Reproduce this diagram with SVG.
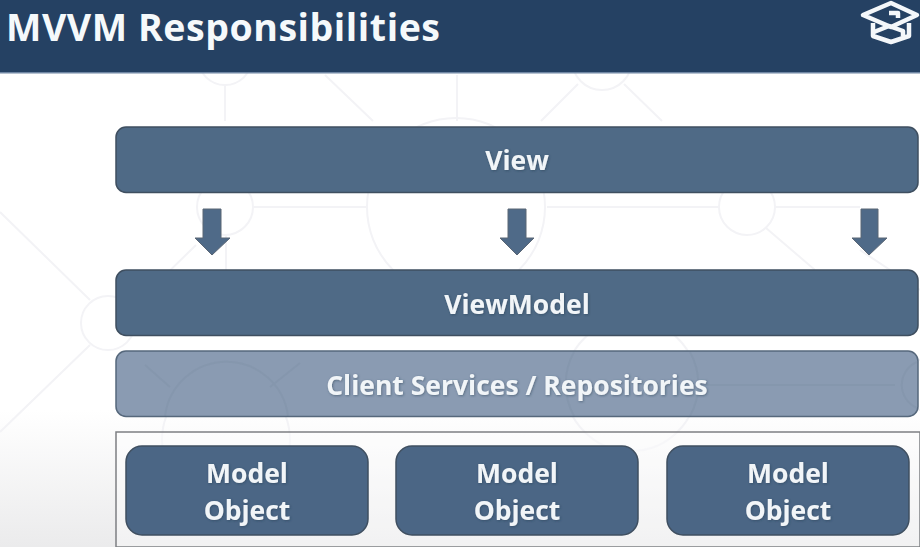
<svg xmlns="http://www.w3.org/2000/svg" width="920" height="547" viewBox="0 0 920 547">
<defs>
<linearGradient id="bg" x1="0" y1="0" x2="0" y2="1"><stop offset="0" stop-color="#fff"/><stop offset="0.75" stop-color="#fff"/><stop offset="1" stop-color="#ebebec"/></linearGradient>
<filter id="sh" x="-10%" y="-30%" width="120%" height="160%"><feDropShadow dx="0.800" dy="0.800" stdDeviation="0.800" flood-color="#1f3448" flood-opacity="0.500"/></filter>
</defs>
<style>
.dark{fill:#4f6a86;stroke:#3f4f60;stroke-width:1.5}
.mdl{fill:#4b6685;stroke:#3f4f60;stroke-width:1.5}
.lite{fill:#8a9bb2;stroke:#56687c;stroke-width:1.5}
.arrow{fill:#4f6a88;stroke:#5a6675;stroke-width:1}
.t{font-family:"Open Sans","Liberation Sans",sans-serif;font-weight:700;fill:#f1f5f8;text-anchor:middle;filter:url(#sh)}
.deco{fill:none;stroke:#f3f3f6;stroke-width:2}
.deco2{fill:none;stroke:#3f4f60;stroke-opacity:.05;stroke-width:2}
</style>
<rect width="920" height="547" fill="url(#bg)"/>
<g id="background" class="deco">
<circle cx="225" cy="58" r="27"/><circle cx="602" cy="60" r="30"/>
<path d="M225 85V121M325 75L373 121M457 75V121M578 84L541 121M624 84L662 121"/>
<circle cx="225" cy="207" r="28"/><path d="M253 207H368M547 207H718M775 207H860"/>
<circle cx="747" cy="207" r="28"/>
<circle cx="456" cy="207" r="89"/>
<path d="M0 212L90 300M90 345L0 432M196 245L150 290M226 235V270M766 228L815 270M860 250L920 290"/>
<circle cx="108" cy="323" r="27"/>
<circle cx="226" cy="440" r="64"/>
<circle cx="631" cy="385" r="66"/>
<circle cx="920" cy="385" r="25"/>
</g>
<g id="header">
<rect width="920" height="72.500" fill="#254163"/>
<rect y="72" width="920" height="1.500" fill="#6f86a3"/>
<text x="6" y="40.500" style="font-family:'Open Sans','Liberation Sans',sans-serif;font-weight:700;font-size:37.500px;letter-spacing:0.550px;fill:#f5f9fb">MVVM Responsibilities</text>
</g>
<g id="cap-icon" fill="none" stroke="#f4f7fa" stroke-width="4.500" stroke-linejoin="round">
<path d="M891 3L863 15 891 27 917 15Z"/>
<path d="M873 23V36L891 42 909 36V23"/>
<path d="M874 32L889 26 903 31V36M889 13H898V18"/>
</g>
<g id="view"><rect class="dark" x="116" y="127" width="802" height="65.500" rx="10"/><text class="t" x="517" y="170" font-size="26.500">View</text></g>
<g id="connectors">
<path class="arrow" d="M203 209H221V238H230L212 255 195 238H203Z"/>
<path class="arrow" d="M508 209H526V238H534L517 255 500 238H508Z"/>
<path class="arrow" d="M861 209H878V238H887L869 255 852 238H861Z"/>
</g>
<g id="viewmodel"><rect class="dark" x="116" y="270" width="802" height="65.500" rx="10"/><text class="t" x="517" y="314" font-size="26.500">ViewModel</text></g>
<g id="services"><rect class="lite" x="116" y="351" width="802" height="65.500" rx="10"/>
<path class="deco2" d="M165 416A62 62 0 0 1 288 416M145 365L170 387M270 387L300 363M574 352A66 66 0 0 0 574 416M690 352A66 66 0 0 1 690 416M700 385H895M917 362A25 25 0 0 0 917 408"/>
<text class="t" x="517" y="394.500" font-size="26.500">Client Services / Repositories</text></g>
<g id="models">
<rect x="116" y="432" width="804" height="115" fill="#fff" fill-opacity=".35" stroke="#7d7f83" stroke-width="1.500"/>
</g>
<g id="model-1"><rect class="mdl" x="126" y="446" width="242" height="89" rx="16"/><text class="t" x="247" y="482.500" font-size="26.500">Model</text><text class="t" x="247" y="519.500" font-size="26.500">Object</text></g>
<g id="model-2"><rect class="mdl" x="396" y="446" width="242" height="89" rx="16"/><text class="t" x="517" y="482.500" font-size="26.500">Model</text><text class="t" x="517" y="519.500" font-size="26.500">Object</text></g>
<g id="model-3"><rect class="mdl" x="667" y="446" width="242" height="89" rx="16"/><text class="t" x="788" y="482.500" font-size="26.500">Model</text><text class="t" x="788" y="519.500" font-size="26.500">Object</text></g>
</svg>
